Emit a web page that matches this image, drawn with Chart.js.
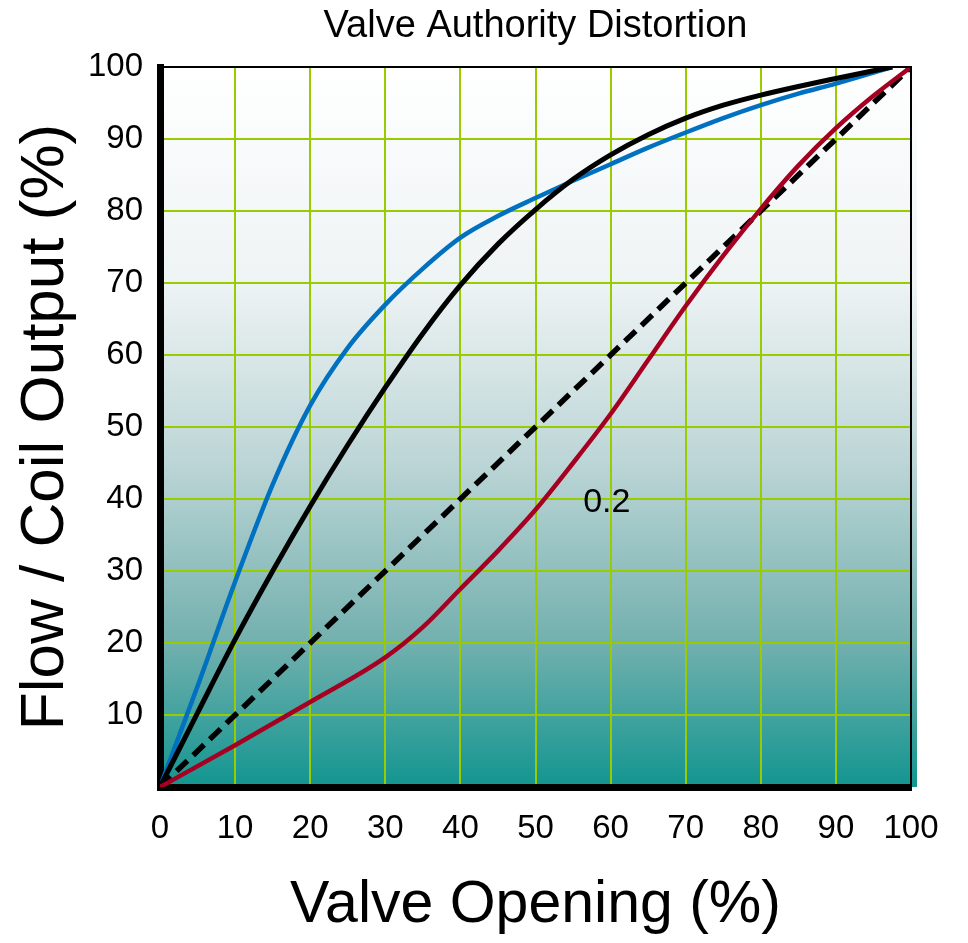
<!DOCTYPE html>
<html lang="en">
<head>
  <meta charset="UTF-8" />
  <title>Valve Authority Distortion</title>
  <script src="https://cdn.jsdelivr.net/npm/chart.js"></script>
  <style>
    html, body {
      margin: 0;
      padding: 0;
      background: #fff;
    }
    #wrap {
      width: 968px;
      height: 943px;
    }
  </style>
</head>
<body>
  <div id="wrap">
    <canvas id="authorityChart" width="968" height="943"></canvas>
  </div>

  <script>
    // Valve opening (%) sample points for each curve
    const openingBlue = [0, 5, 10, 15, 20, 25, 30, 35, 40, 45, 50, 55, 60, 65, 70, 75, 80, 85, 90, 97.5];
    const openingBlack = [0, 5, 10, 15, 20, 25, 30, 35, 40, 45, 50, 55, 60, 65, 70, 75, 80, 85, 90, 97.5];
    const openingRed = [0, 10, 20, 30, 35, 40, 45, 50, 55, 60, 65, 70, 75, 80, 85, 90, 95, 100];
    const openingLinear = [0, 100];

    // Flow / coil output (%) for each curve
    const blueOutput = [0, 14, 28.5, 42, 53, 61, 67, 72, 76.3, 79.3, 81.8, 84.2, 86.5, 88.8, 90.9, 92.9, 94.7, 96.3, 97.7, 100];
    const blackOutput = [0, 10.3, 20.5, 30, 39, 47.5, 55.5, 63, 69.7, 75.4, 80.2, 84.4, 87.8, 90.6, 92.9, 94.7, 96.1, 97.3, 98.4, 100];
    const redOutput = [0, 5.8, 11.8, 18, 22.2, 27.5, 32.8, 38.5, 45, 51.8, 59.3, 66.8, 73.8, 80.3, 86.3, 91.5, 96, 100];
    const linearOutput = [0, 100];

    // Ticks and the curve annotation
    const tickValues = [0, 10, 20, 30, 40, 50, 60, 70, 80, 90, 100];
    const curveLabel = '0.2';
    const curveLabelAt = [59.5, 39.5];

    const FONT = "'Liberation Sans', Arial, sans-serif";

    function toPoints(xs, ys) {
      return xs.map((x, i) => ({ x: x, y: ys[i] }));
    }

    // Gradient plot background, frame lines, title and curve label
    const plotDecor = {
      id: 'plotDecor',
      beforeDraw(chart) {
        const { ctx, chartArea: a } = chart;
        const g = ctx.createLinearGradient(0, a.top, 0, a.bottom);
        g.addColorStop(0, '#ffffff');
        g.addColorStop(0.3, '#eef3f4');
        g.addColorStop(0.55, '#bcd5d6');
        g.addColorStop(0.8, '#72b0ae');
        g.addColorStop(1, '#139590');
        ctx.save();
        ctx.fillStyle = g;
        ctx.fillRect(a.left, a.top, a.right - a.left + 6, a.bottom - a.top);
        ctx.restore();
      },
      afterDraw(chart) {
        const { ctx, chartArea: a, scales } = chart;
        ctx.save();
        ctx.strokeStyle = '#000';
        ctx.lineWidth = 2;
        ctx.beginPath();
        ctx.moveTo(a.left, a.top);
        ctx.lineTo(a.right, a.top);
        ctx.lineTo(a.right, a.bottom);
        ctx.stroke();

        ctx.fillStyle = '#000';
        ctx.textAlign = 'center';
        ctx.textBaseline = 'middle';
        ctx.font = '38px ' + FONT;
        ctx.fillText('Valve Authority Distortion', (a.left + a.right) / 2, 27);

        ctx.font = '34px ' + FONT;
        ctx.fillText(curveLabel,
          scales.x.getPixelForValue(curveLabelAt[0]),
          scales.y.getPixelForValue(curveLabelAt[1]));
        ctx.restore();
      }
    };

    const ctx = document.getElementById('authorityChart').getContext('2d');
    new Chart(ctx, {
      type: 'line',
      data: {
        datasets: [
          {
            label: '0.2',
            data: toPoints(openingRed, redOutput),
            borderColor: '#a50021',
            borderWidth: 4.5
          },
          {
            label: 'Authority 0.5',
            data: toPoints(openingBlack, blackOutput),
            borderColor: '#000000',
            borderWidth: 5
          },
          {
            label: 'Linear',
            data: toPoints(openingLinear, linearOutput),
            borderColor: '#000000',
            borderWidth: 5.5,
            borderDash: [15, 8],
            cubicInterpolationMode: 'default',
            tension: 0
          },
          {
            label: 'Authority 1.0',
            data: toPoints(openingBlue, blueOutput),
            borderColor: '#0070c0',
            borderWidth: 4.5
          }
        ]
      },
      options: {
        responsive: false,
        animation: false,
        layout: { padding: { top: 67, right: 57, left: 0, bottom: 0 } },
        elements: {
          point: { radius: 0 },
          line: { cubicInterpolationMode: 'monotone', fill: false, borderCapStyle: 'butt' }
        },
        plugins: {
          legend: { display: false },
          tooltip: { enabled: false }
        },
        scales: {
          x: {
            type: 'linear',
            min: 0,
            max: 100,
            afterFit(scale) { scale.height = 156; },
            afterBuildTicks(scale) { scale.ticks = tickValues.map(v => ({ value: v })); },
            grid: { color: '#99cc00', lineWidth: 2, drawTicks: false },
            border: { color: '#000', width: 7 },
            ticks: {
              autoSkip: false,
              maxRotation: 0,
              padding: 22,
              color: '#000',
              font: { family: FONT, size: 33 }
            },
            title: {
              display: true,
              text: 'Valve Opening (%)',
              color: '#000',
              font: { family: FONT, size: 59 },
              padding: { top: 0, bottom: 2 }
            }
          },
          y: {
            type: 'linear',
            min: 0,
            max: 100,
            afterFit(scale) { scale.width = 160; },
            afterBuildTicks(scale) { scale.ticks = tickValues.map(v => ({ value: v })); },
            grid: { color: '#99cc00', lineWidth: 2, drawTicks: false },
            border: { color: '#000', width: 7 },
            ticks: {
              padding: 17,
              color: '#000',
              font: { family: FONT, size: 33 },
              callback: v => (v === 0 ? '' : v)
            },
            title: {
              display: true,
              text: 'Flow / Coil Output (%)',
              color: '#000',
              font: { family: FONT, size: 62 },
              padding: { top: 9, bottom: 0 }
            }
          }
        }
      },
      plugins: [plotDecor]
    });
  </script>
</body>
</html>
